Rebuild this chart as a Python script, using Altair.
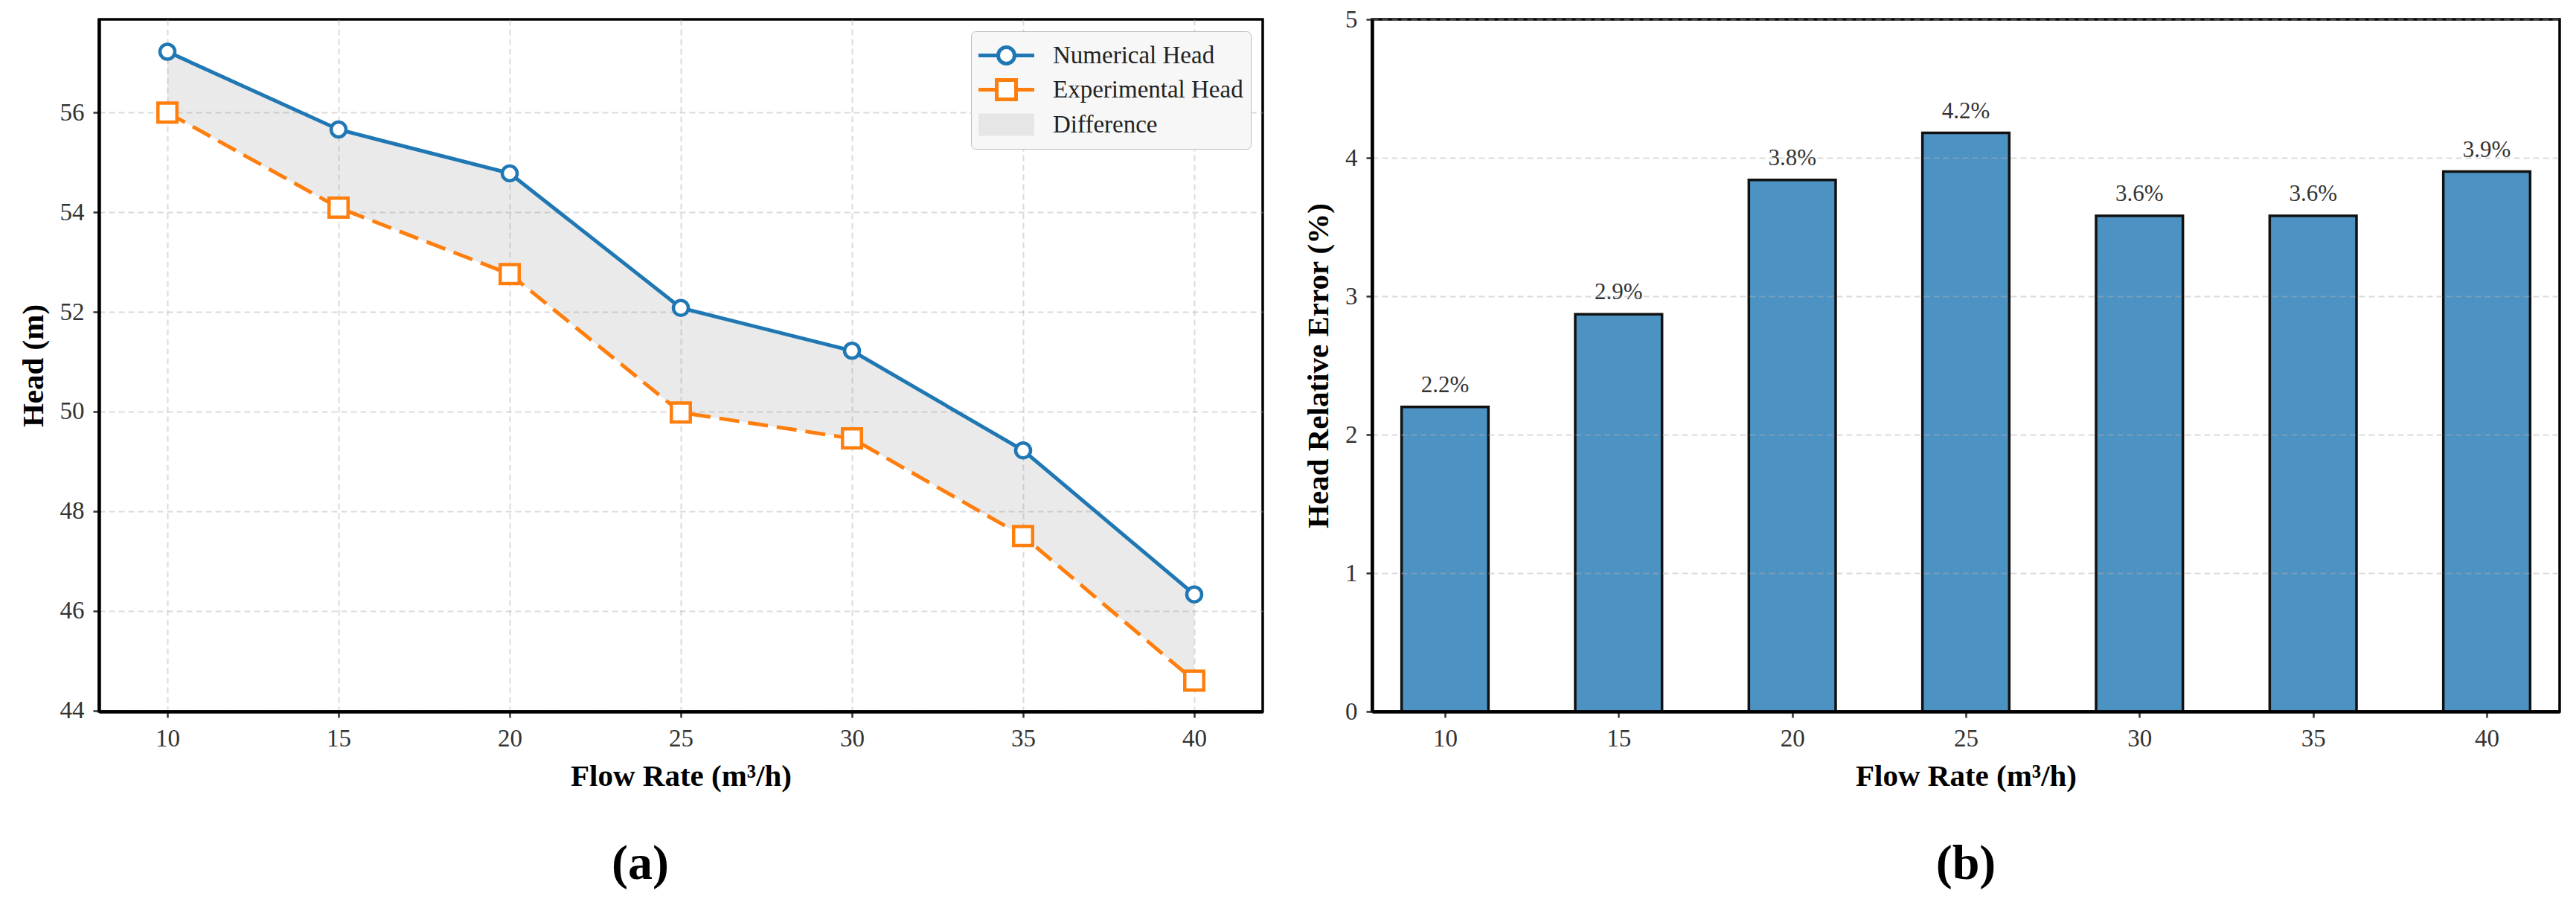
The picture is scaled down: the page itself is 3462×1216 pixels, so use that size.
import altair as alt
import pandas as pd

# values
flow_rate = [10, 15, 20, 25, 30, 35, 40]
numerical_head = [57.22, 55.66, 54.78, 52.08, 51.22, 49.22, 46.33]
experimental_head = [56.00, 54.09, 52.76, 49.98, 49.46, 47.50, 44.60]
relative_error = [2.20, 2.87, 3.84, 4.18, 3.58, 3.58, 3.90]
legend_labels = ['Numerical Head', 'Experimental Head', 'Difference']
head_ticks = [44, 46, 48, 50, 52, 54, 56]
error_ticks = [0, 1, 2, 3, 4, 5]

BLUE = '#1f77b4'
ORANGE = '#ff7f0e'
BAR = '#4c92c3'
FILL_GREY = '#e6e6e6'
SERIF = 'Liberation Serif'

heads = pd.DataFrame({'flow': flow_rate, 'numerical': numerical_head,
                      'experimental': experimental_head})
errors = pd.DataFrame({'flow': flow_rate, 'error': relative_error})
legend_rows = pd.DataFrame({'series': legend_labels})

grid = dict(grid=True, gridColor='#b0b0b0', gridOpacity=0.45, gridDash=[8, 5], gridWidth=2)

# (a) head curves
x_flow = alt.X('flow:Q', scale=alt.Scale(domain=[8, 42], nice=False, zero=False),
               axis=alt.Axis(title='Flow Rate (m³/h)', values=flow_rate, **grid))


def y_head(field):
    return alt.Y(field + ':Q', scale=alt.Scale(domain=[43.98, 57.87], nice=False, zero=False),
                 axis=alt.Axis(title='Head (m)', values=head_ticks, **grid))


base = alt.Chart(heads).encode(x=x_flow)

difference = base.mark_area(color='#808080', opacity=0.17).encode(
    y=y_head('numerical'), y2='experimental:Q')
num_line = base.mark_line(color=BLUE, strokeWidth=5).encode(y=y_head('numerical'))
exp_line = base.mark_line(color=ORANGE, strokeWidth=5, strokeDash=[27, 12]).encode(
    y=y_head('experimental'))
num_pts = base.mark_point(shape='circle', size=400, filled=True, fill='white', stroke=BLUE,
                          strokeWidth=4.5, opacity=1).encode(y=y_head('numerical'))
exp_pts = base.mark_point(shape='square', size=650, filled=True, fill='white', stroke=ORANGE,
                          strokeWidth=4.5, opacity=1).encode(y=y_head('experimental'))

# legend keys: line stub + marker as custom symbol paths (wider than the 40px symbol box)
circle_key = 'M-1.875,0H-0.55M0.55,0H1.875M0.55,0A0.55,0.55,0,1,1,-0.55,0A0.55,0.55,0,1,1,0.55,0Z'
square_key = 'M-1.875,0H-0.65M0.65,0H1.875M-0.65,-0.65H0.65V0.65H-0.65Z'
patch_key = 'M-1.75,-0.62H1.75V0.62H-1.75Z'

legend_def = alt.Legend(
    title=None, orient='top-right', offset=16, padding=10, rowPadding=1,
    symbolSize=1600, symbolOffset=15, symbolStrokeWidth=5, symbolOpacity=1, labelOffset=40,
    labelFont=SERIF, labelFontSize=33, labelColor='#222', labelLimit=500,
    fillColor='#f7f7f7', strokeColor='#bdbdbd', cornerRadius=6,
)
key = alt.Chart(legend_rows).mark_point(filled=True, opacity=0, strokeWidth=5).encode(
    shape=alt.Shape('series:N', scale=alt.Scale(domain=legend_labels,
                    range=[circle_key, square_key, patch_key]), legend=legend_def),
    fill=alt.Fill('series:N', scale=alt.Scale(domain=legend_labels,
                  range=['white', 'white', FILL_GREY]), legend=legend_def),
    stroke=alt.Stroke('series:N', scale=alt.Scale(domain=legend_labels,
                      range=[BLUE, ORANGE, FILL_GREY]), legend=legend_def),
)

left = alt.layer(difference, num_line, exp_line, num_pts, exp_pts, key).properties(
    width=1564, height=930,
    title=alt.TitleParams('(a)', orient='bottom', anchor='middle', frame='bounds',
                          fontSize=66, fontWeight='bold', offset=66, font=SERIF, color='black'),
)

# (b) relative error bars
x_bar_axis = alt.Axis(title='Flow Rate (m³/h)', values=flow_rate, grid=False, zindex=1)
x_bar_scale = alt.Scale(domain=[7.9, 42.1], nice=False, zero=False)
y_err = alt.Y('error:Q', scale=alt.Scale(domain=[0, 5], nice=False),
              axis=alt.Axis(title='Head Relative Error (%)', values=error_ticks, zindex=1, **grid))

bars_base = alt.Chart(errors).transform_calculate(
    left='datum.flow - 1.25', right='datum.flow + 1.25',
    label="format(datum.error, '.1f') + '%'",
)
bars = bars_base.mark_bar(color=BAR, stroke='#111111', strokeWidth=3.5).encode(
    x=alt.X('left:Q', scale=x_bar_scale, axis=x_bar_axis),
    x2='right:Q',
    y=y_err,
    y2=alt.datum(0),
)
bar_text = bars_base.mark_text(baseline='alphabetic', dy=-20, fontSize=31, color='#333333',
                               font=SERIF).encode(
    x=alt.X('flow:Q', scale=x_bar_scale, axis=x_bar_axis),
    y=y_err,
    text='label:N',
)

right = alt.layer(bars, bar_text).properties(
    width=1596, height=930,
    title=alt.TitleParams('(b)', orient='bottom', anchor='middle', frame='group',
                          fontSize=66, fontWeight='bold', offset=66, font=SERIF, color='black'),
)

chart = alt.hconcat(left, right, spacing=50).resolve_scale(
    x='independent', y='independent'
).resolve_legend(
    shape='independent', fill='independent', stroke='independent'
).properties(
    padding={'left': 14, 'top': 0, 'right': 5, 'bottom': 5},
).configure_view(
    stroke='black', strokeWidth=3.5,
).configure_axis(
    labelFont=SERIF, labelFontSize=33, labelColor='#333333',
    titleFont=SERIF, titleFontSize=41, titleFontWeight='bold', titleColor='black',
    domainColor='black', domainWidth=4.5, tickColor='#333333', tickSize=8, tickWidth=2.5,
    labelPadding=12, titlePadding=14,
)

chart.save('out.html', embed_options={'renderer': 'svg', 'actions': False})
